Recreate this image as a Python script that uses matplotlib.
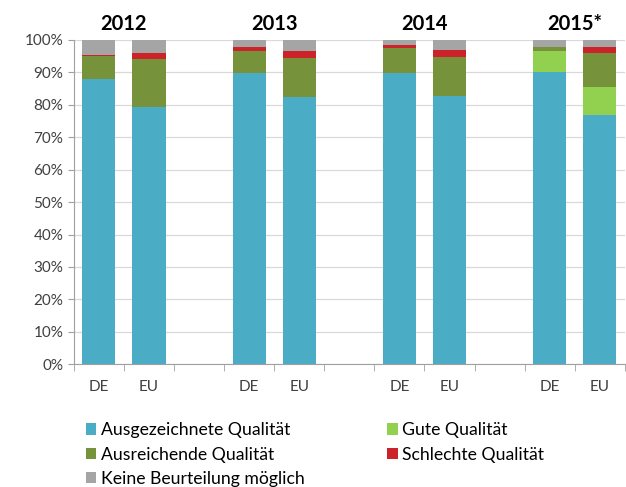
import numpy as np
import matplotlib.pyplot as plt

plt.rcParams['font.family'] = ['Lato', 'DejaVu Sans']

# 11 slots: DE, EU, gap for each year (last year without trailing gap)
slots = ["DE", "EU", "", "DE", "EU", "", "DE", "EU", "", "DE", "EU"]
years = ["2012", "2013", "2014", "2015*"]

# shares in percent per bar (DE12, EU12, DE13, EU13, DE14, EU14, DE15, EU15)
ausgezeichnet = [88.0, 79.4, 89.7, 82.5, 89.9, 82.7, 90.2, 76.8]
gut = [0.0, 0.0, 0.0, 0.0, 0.0, 0.0, 6.5, 8.8]
ausreichend = [7.0, 14.6, 7.0, 11.8, 7.5, 12.1, 1.2, 10.5]
schlecht = [0.5, 1.9, 1.2, 2.3, 1.0, 2.1, 0.0, 1.8]
keine = [4.5, 4.1, 2.1, 3.4, 1.6, 3.1, 2.1, 2.1]

series = [
    ("Ausgezeichnete Qualität", ausgezeichnet, "#4BACC6"),
    ("Gute Qualität", gut, "#92D050"),
    ("Ausreichende Qualität", ausreichend, "#76933C"),
    ("Schlechte Qualität", schlecht, "#CC2229"),
    ("Keine Beurteilung möglich", keine, "#A5A5A5"),
]

bar_x = np.array([i for i, s in enumerate(slots) if s])

fig = plt.figure(figsize=(6.26, 4.87), dpi=100)
ax = fig.add_axes([0.118, 0.252, 0.88, 0.666])

bottom = np.zeros(len(bar_x))
handles = {}
for name, vals, col in series:
    vals = np.array(vals)
    h = ax.bar(bar_x, vals, 0.66, bottom=bottom, color=col, label=name, zorder=2)
    handles[name] = h
    bottom += vals

ax.set_xlim(-0.5, len(slots) - 0.5)
ax.set_ylim(0, 100)
ax.set_yticks(np.arange(0, 101, 10))
ax.set_yticklabels([f"{v}%" for v in range(0, 101, 10)], fontsize=11, color="#404040")
ax.yaxis.grid(True, color="#D9D9D9", lw=0.9, zorder=0)

# category labels centered, tick marks at slot boundaries
ax.set_xticks(np.arange(len(slots)))
ax.set_xticklabels(slots, fontsize=11, color="#404040")
ax.tick_params(axis="x", length=0, pad=11)
ax.set_xticks(np.arange(len(slots) + 1) - 0.5, minor=True)
ax.tick_params(axis="x", which="minor", length=5, color="#A0A0A0")
ax.tick_params(axis="y", length=4, color="#A0A0A0")

for side in ["top", "right"]:
    ax.spines[side].set_visible(False)
for side in ["left", "bottom"]:
    ax.spines[side].set_color("#A0A0A0")

for i, yr in enumerate(years):
    ax.text(i * 3 + 0.5, 101.8, yr, ha="center", va="bottom",
            fontsize=14.5, fontweight="bold", color="black")

order = ["Ausgezeichnete Qualität", "Ausreichende Qualität", "Keine Beurteilung möglich",
         "Gute Qualität", "Schlechte Qualität"]
fig.legend([handles[n] for n in order], order, ncol=2, loc="upper left",
           bbox_to_anchor=(0.137, 0.133), frameon=False, fontsize=12.7,
           handlelength=0.6, handleheight=0.6, handletextpad=0.25,
           columnspacing=4.7, labelspacing=0.47, borderpad=0, borderaxespad=0)

fig.savefig("out.png", dpi=100)
